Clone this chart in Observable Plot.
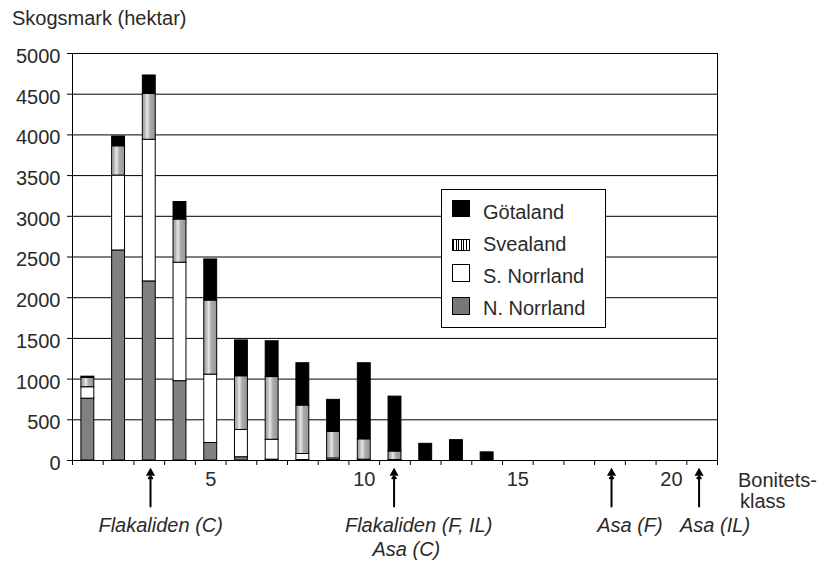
<!DOCTYPE html>
<html><head><meta charset="utf-8">
<script src="https://cdn.jsdelivr.net/npm/d3@7"></script>
<script src="https://cdn.jsdelivr.net/npm/@observablehq/plot@0.6"></script>
<style>
body{margin:0;background:#fff;}
#wrap{position:relative;width:834px;height:569px;font-family:"Liberation Sans",Arial,sans-serif;color:#2a2a2a;}
.lbl{position:absolute;font-size:20px;white-space:pre;line-height:1;}
#legend{position:absolute;left:441px;top:189px;width:165px;height:139px;border:1px solid #000;background:#fff;box-sizing:border-box;}
.sw{position:absolute;left:10px;width:18px;height:17px;box-sizing:border-box;border:1px solid #000;}
.lt{position:absolute;left:41px;font-size:20px;line-height:1;white-space:pre;}
</style></head>
<body>
<div id="wrap">
  <div id="chart"></div>
</div>
<script>
const classes = [1,2,3,4,5,6,7,8,9,10,11,12,13,14,15,16,17,18,19,20,21];
const regions = ["N. Norrland","S. Norrland","Svealand","Götaland"];
const nNorrland = [760,2580,2200,975,215,40,10,5,5,0,0,0,0,0,0,0,0,0,0,0,0];
const sNorrland = [140,920,1740,1455,840,335,245,75,20,10,5,0,0,0,0,0,0,0,0,0,0];
const svealand  = [115,360,565,530,910,660,770,595,325,250,105,0,0,0,0,0,0,0,0,0,0];
const gotaland  = [15,120,225,215,505,440,440,520,395,935,675,205,250,100,0,0,0,0,0,0,0];
const yTicks = [0,500,1000,1500,2000,2500,3000,3500,4000,4500,5000];
const xTickLabels = [5,10,15,20];
const arrowPos = [3.04,10.97,18.05,20.9];
const annotLabels = ["Flakaliden (C)","Flakaliden (F, IL)","Asa (C)","Asa (F)","Asa (IL)"];
const annotX = [3.37,11.77,11.37,18.65,21.42];
const annotRow = [0,0,1,0,0];
const legendOrder = ["Götaland","Svealand","S. Norrland","N. Norrland"];

const series = {"N. Norrland": nNorrland, "S. Norrland": sNorrland, "Svealand": svealand, "Götaland": gotaland};
const fills = {"N. Norrland":"#808080","S. Norrland":"#ffffff","Svealand":"url(#sveaGrad)","Götaland":"#000000"};

// stack manually (bottom: N. Norrland ... top: Götaland)
const stacked = [];
classes.forEach((c, i) => {
  let base = 0;
  for (const r of regions) {
    const v = series[r][i];
    if (v > 0) stacked.push({cls: c, region: r, y1: base, y2: base + v});
    base += v;
  }
});
const boundaries = d3.range(0, classes.length + 1).map(k => k + 0.5);
const arrows = arrowPos.map(x => ({x}));
const annots = annotLabels.map((t, i) => ({label: t, x: annotX[i], row: annotRow[i]}));
const halfW = 0.21;
const txt = "#2a2a2a";

const font = "Liberation Sans, Arial, sans-serif";
const svg = Plot.plot({
  width: 834, height: 569,
  marginLeft: 72, marginRight: 117, marginTop: 53, marginBottom: 109,
  style: {fontFamily: font, fontSize: "20px", color: txt, background: "transparent", overflow: "visible"},
  x: {type: "linear", domain: [0.5, 21.5], axis: null},
  y: {domain: [0, 5000], axis: null},
  color: {domain: regions, range: regions.map(r => fills[r])},
  marks: [
    Plot.gridY({ticks: yTicks, stroke: "#000", strokeOpacity: 1, strokeWidth: 1}),
    Plot.axisY({ticks: yTicks, tickSize: 5, text: null, label: null, stroke: "#000"}),
    Plot.axisY({ticks: yTicks, tickSize: 0, tickPadding: 12, dy: 3, fontSize: 20, fill: txt, label: null, tickFormat: d => String(d)}),
    Plot.axisX({ticks: boundaries, tickSize: 5, text: null, label: null, stroke: "#000"}),
    Plot.axisX({ticks: xTickLabels, tickSize: 0, tickPadding: 11, fontSize: 20, fill: txt, label: null, tickFormat: d => String(d)}),
    Plot.rect(stacked, {x1: d => d.cls - halfW, x2: d => d.cls + halfW, y1: "y1", y2: "y2", fill: "region", stroke: "#000", strokeWidth: 1}),
    Plot.frame({stroke: "#000", strokeWidth: 1}),
    Plot.vector(arrows, {x: "x", frameAnchor: "bottom", dy: 46, length: 30, rotate: 0, anchor: "start", stroke: "#000", strokeWidth: 2, r: 1}),
    Plot.dot(arrows, {x: "x", frameAnchor: "bottom", dy: 12.5, symbol: "triangle", r: 3.4, fill: "#000", stroke: "none"}),
    Plot.text(annots.filter(d => d.row === 0), {x: "x", text: "label", frameAnchor: "bottom", dy: 71, fontStyle: "italic", fontSize: 20, fill: txt}),
    Plot.text(annots.filter(d => d.row === 1), {x: "x", text: "label", frameAnchor: "bottom", dy: 95, fontStyle: "italic", fontSize: 20, fill: txt})
  ]
});

// gradient for Svealand bars
const defs = d3.select(svg).insert("defs", ":first-child");
const g = defs.append("linearGradient").attr("id", "sveaGrad").attr("x1", 0).attr("x2", 1).attr("y1", 0).attr("y2", 0);
[[0,"#a2a2a2"],[0.2,"#b4b4b4"],[0.36,"#e6e6e6"],[0.46,"#cfcfcf"],[0.6,"#aaaaaa"],[1,"#969696"]]
  .forEach(([o,c]) => g.append("stop").attr("offset", o).attr("stop-color", c));

document.getElementById("chart").appendChild(svg);

// overlays: title, axis label, legend
const wrap = document.getElementById("wrap");
function addLabel(text, left, top) {
  const d = document.createElement("div");
  d.className = "lbl"; d.textContent = text;
  d.style.left = left + "px"; d.style.top = top + "px";
  wrap.appendChild(d);
}
addLabel("Skogsmark (hektar)", 12, 8);
addLabel("Bonitets-", 738, 470);
addLabel("klass", 740, 491);

const legend = document.createElement("div");
legend.id = "legend";
const swatchStyle = {
  "Götaland": {bg: "#000", top: 10, h: 17},
  "Svealand": {bg: "repeating-linear-gradient(90deg,#000 0 1px,#fff 1px 2.6px)", top: 49, h: 12},
  "S. Norrland": {bg: "#fff", top: 74, h: 18},
  "N. Norrland": {bg: "#777", top: 107, h: 18}
};
const textTops = [12, 44, 76, 107.5];
legendOrder.forEach((r, i) => {
  const s = document.createElement("div");
  s.className = "sw";
  s.style.background = swatchStyle[r].bg;
  s.style.top = swatchStyle[r].top + "px";
  s.style.height = swatchStyle[r].h + "px";
  legend.appendChild(s);
  const t = document.createElement("div");
  t.className = "lt"; t.textContent = r;
  t.style.top = textTops[i] + "px";
  legend.appendChild(t);
});
wrap.appendChild(legend);
</script>
</body></html>
